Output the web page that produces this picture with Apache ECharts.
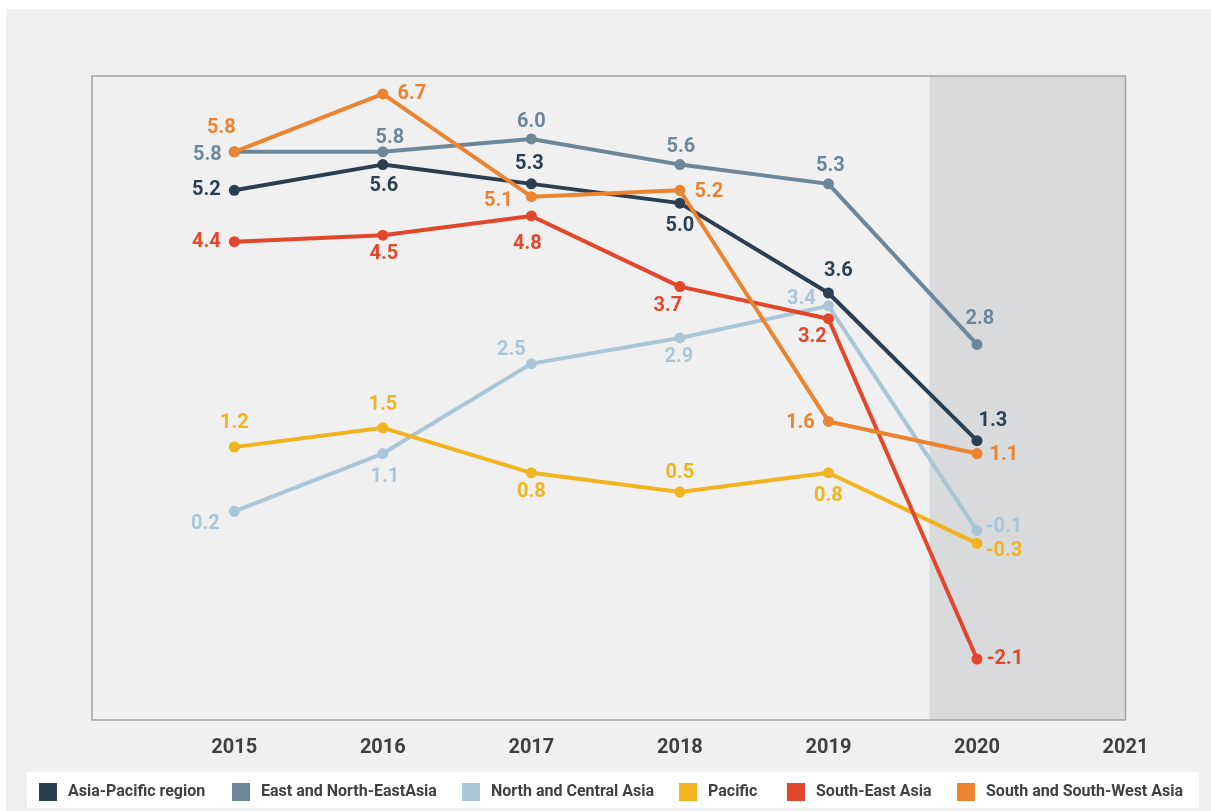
<!DOCTYPE html>
<html>
<head>
<meta charset="utf-8">
<script src="https://cdn.jsdelivr.net/npm/echarts@6/dist/echarts.min.js"></script>
<style>
  html, body { margin: 0; padding: 0; background: #ffffff; }
  #chart { width: 1211px; height: 811px; }
</style>
</head>
<body>
<div id="chart"></div>
<script>
// ---- data ----
const years = [2015, 2016, 2017, 2018, 2019, 2020];
const xTickLabels = [2015, 2016, 2017, 2018, 2019, 2020, 2021];
const seriesNames = ['Asia-Pacific region', 'East and North-EastAsia', 'North and Central Asia', 'Pacific', 'South-East Asia', 'South and South-West Asia'];
const asiaPacific    = [5.2, 5.6, 5.3, 5.0, 3.6, 1.3];
const eastNorthEast  = [5.8, 5.8, 6.0, 5.6, 5.3, 2.8];
const northCentral   = [0.2, 1.1, 2.5, 2.9, 3.4, -0.1];
const pacific        = [1.2, 1.5, 0.8, 0.5, 0.8, -0.3];
const southEast      = [4.4, 4.5, 4.8, 3.7, 3.2, -2.1];
const southSouthWest = [5.8, 6.7, 5.1, 5.2, 1.6, 1.1];
const shadedFrom = 2019.68; // start of shaded (projection) band

// ---- styling ----
const colors = ['#2c3e4f', '#6e8798', '#aac5d5', '#f1b420', '#e3472b', '#ea8430'];
const FONT = 'Roboto, "Noto Sans", "Liberation Sans", sans-serif';
// label offsets (px) from each point, per series
const labelOffsets = [
  [[-28, 0], [1, 21], [-2, -20], [0, 23], [10, -22], [16, -20]],
  [[-27, 3], [7, -14], [0, -17], [1, -18], [2, -18], [3, -25]],
  [[-29, 13], [2, 23], [-20, -14], [-1, 19], [-27, -7], [27, -4]],
  [[0, -24], [0, -23], [0, 19], [0, -19], [0, 23], [27, 8]],
  [[-28, 0], [1, 19], [-4, 28], [-12, 19], [-16, 18], [28, 0]],
  [[-13, -24], [29, 0], [-33, 4], [29, 2], [-28, 2], [27, 1]]
];
const legendLefts = [39, 232, 462, 679, 787, 957];

const allValues = [asiaPacific, eastNorthEast, northCentral, pacific, southEast, southSouthWest];

const series = allValues.map((vals, s) => ({
  name: seriesNames[s],
  type: 'line',
  z: 3 + s,
  symbol: 'circle',
  symbolSize: 11,
  showAllSymbol: true,
  animation: false,
  lineStyle: { width: 4, color: colors[s] },
  itemStyle: { color: colors[s] },
  emphasis: { disabled: true },
  label: {
    show: true,
    position: 'inside',
    color: colors[s],
    fontFamily: FONT,
    fontSize: 20,
    fontWeight: 'bold',
    formatter: p => p.value[1].toFixed(1)
  },
  data: years.map((y, i) => ({ value: [y, vals[i]], label: { offset: labelOffsets[s][i] } }))
}));

// shaded band
series.unshift({
  name: 'shade',
  type: 'line',
  z: 1,
  data: [],
  silent: true,
  animation: false,
  markArea: {
    silent: true,
    itemStyle: { color: '#d9dadc' },
    data: [[{ xAxis: shadedFrom, yAxis: -3.05 }, { xAxis: 2021, yAxis: 6.98 }]]
  }
});

const legends = seriesNames.map((n, i) => ({
  left: legendLefts[i], top: 783,
  padding: 0,
  orient: 'horizontal',
  icon: 'rect',
  itemWidth: 18, itemHeight: 18,
  selectedMode: false,
  textStyle: { fontFamily: FONT, fontSize: 16, fontWeight: 'bold', color: '#404040', padding: [0, 0, 0, 6] },
  data: [n]
}));

const chart = echarts.init(document.getElementById('chart'), null, { renderer: 'canvas' });
chart.setOption({
  animation: false,
  backgroundColor: 'transparent',
  graphic: [
    { type: 'rect', z: -10, silent: true, shape: { x: 6, y: 9, width: 1205, height: 802 }, style: { fill: '#f0f0f0' } },
    { type: 'rect', z: -9, silent: true, shape: { x: 27, y: 772, width: 1172, height: 36 }, style: { fill: '#ffffff' } }
  ],
  grid: {
    left: 92, right: 85.5, top: 76, bottom: 91,
    show: true, z: 20,
    borderColor: '#a3a3a3', borderWidth: 1.5,
    backgroundColor: 'transparent'
  },
  legend: legends,
  xAxis: {
    type: 'value',
    min: 2014.042, max: 2021,
    axisLine: { show: false },
    axisTick: { show: false },
    splitLine: { show: false },
    axisLabel: {
      customValues: xTickLabels,
      margin: 18,
      color: '#404040',
      fontFamily: FONT,
      fontSize: 20,
      fontWeight: 'bold',
      formatter: v => String(Math.round(v))
    }
  },
  yAxis: {
    type: 'value',
    min: -3.05, max: 6.98,
    axisLine: { show: false },
    axisTick: { show: false },
    splitLine: { show: false },
    axisLabel: { show: false }
  },
  series: series
});
</script>
</body>
</html>
